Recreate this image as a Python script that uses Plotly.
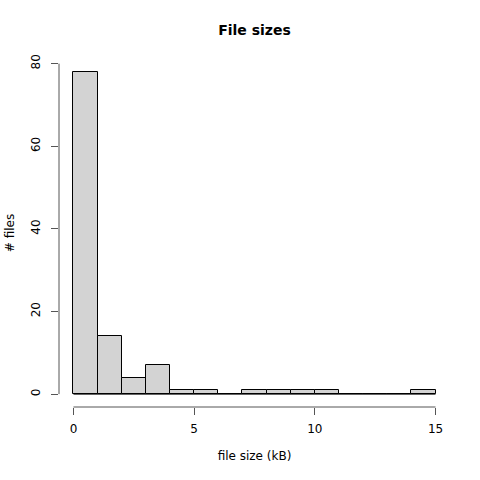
import plotly.graph_objects as go

bin_edges = [0, 1, 2, 3, 4, 5, 6, 7, 8, 9, 10, 11, 12, 13, 14, 15]
counts = [78, 14, 4, 7, 1, 1, 0, 1, 1, 1, 1, 0, 0, 0, 1]
x_ticks = [0, 5, 10, 15]
y_ticks = [0, 20, 40, 60, 80]

centers = [(bin_edges[i] + bin_edges[i + 1]) / 2 for i in range(len(counts))]
widths = [bin_edges[i + 1] - bin_edges[i] for i in range(len(counts))]

FONT = "DejaVu Sans"

fig = go.Figure()
# baseline (zero-height bins drawn as a line, as in R)
fig.add_trace(go.Scatter(x=[bin_edges[0], bin_edges[-1]], y=[0, 0], mode="lines",
                         line=dict(color="black", width=1), hoverinfo="skip", showlegend=False))
fig.add_trace(go.Bar(x=centers, y=counts, width=widths,
                     marker=dict(color="#D3D3D3", line=dict(color="black", width=1)),
                     showlegend=False))

xr = [bin_edges[0] - 0.04 * (bin_edges[-1] - bin_edges[0]), bin_edges[-1] + 0.04 * (bin_edges[-1] - bin_edges[0])]
ymax = max(counts)
yr = [-0.04 * ymax, ymax * 1.04]

fig.update_layout(
    width=480, height=480,
    margin=dict(l=59, r=30, t=59, b=73),
    paper_bgcolor="white", plot_bgcolor="white",
    font=dict(family=FONT, size=12, color="black"),
    bargap=0,
    title=dict(text="<b>File sizes</b>", x=0.5, xref="paper", y=1 - 30 / 480, yref="container",
               xanchor="center", yanchor="middle", font=dict(size=14, family=FONT)),
    xaxis=dict(range=xr, tickvals=x_ticks, ticktext=[str(v) for v in x_ticks],
               showgrid=False, zeroline=False, showline=False, automargin=False,
               ticks="outside", ticklen=7, tickcolor="#555", tickwidth=1,
               ticklabelstandoff=4,
               title=dict(text="file size (kB)", standoff=16, font=dict(size=12))),
    yaxis=dict(range=yr, tickvals=y_ticks, ticktext=[str(v) for v in y_ticks],
               showgrid=False, zeroline=False, showline=False, automargin=False,
               ticks="outside", ticklen=7, tickcolor="#555", tickwidth=1,
               tickangle=-90, ticklabelstandoff=6,
               title=dict(text="# files", standoff=12, font=dict(size=12))),
)
fig.add_shape(type="line", xref="paper", yref="y", x0=0, x1=0, y0=y_ticks[0], y1=y_ticks[-1],
              line=dict(color="#555", width=1))
fig.add_shape(type="line", xref="x", yref="paper", x0=x_ticks[0], x1=x_ticks[-1], y0=0, y1=0,
              line=dict(color="#555", width=1))

fig.write_html("out.html", config={"displayModeBar": False},
               post_script="document.body.style.margin='0';")
